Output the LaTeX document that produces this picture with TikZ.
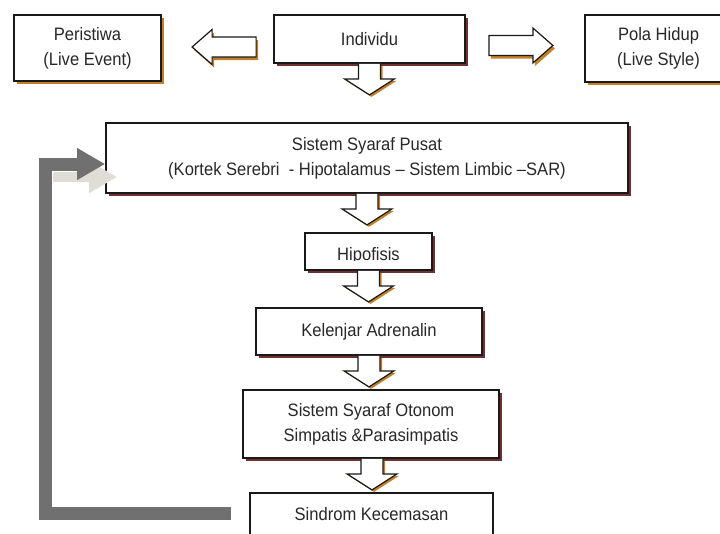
\documentclass[tikz,border=0pt]{standalone}
\usepackage{fontspec}
\setmainfont[FakeStretch=0.92]{Liberation Sans}
\usetikzlibrary{arrows.meta,calc,shadows}
\definecolor{shorange}{RGB}{196,128,40}
\definecolor{shmaroon}{RGB}{110,48,48}
\definecolor{txt}{RGB}{40,40,40}
\definecolor{fbdark}{RGB}{112,112,112}
\definecolor{fblight}{RGB}{222,222,214}
\begin{document}
\begin{tikzpicture}[x=1pt,y=-1pt,
 box/.style={draw=black!90, line width=1.8pt, fill=white, inner sep=0pt, align=center, text=txt, font=\fontsize{18}{25}\selectfont},
 oshadow/.style={drop shadow={shadow xshift=3pt, shadow yshift=-3pt, fill=shorange, opacity=1}},
 mshadow/.style={drop shadow={shadow xshift=3pt, shadow yshift=-3pt, fill=shmaroon, opacity=1}},
 blk/.style={draw=black!90, fill=white, line width=1.2pt, line join=miter},
 downarr/.pic={
   \fill[shorange, shift={(2,2)}] (-11,0) -- (-11,15) -- (-25,15) -- (0,31) -- (25,15) -- (11,15) -- (11,0) -- cycle;
   \draw[blk] (-11,0) -- (-11,15) -- (-25,15) -- (0,31) -- (25,15) -- (11,15) -- (11,0);
 },
 leftarr/.pic={
   \fill[shorange, shift={(2,3)}] (32,-10) -- (-12,-10) -- (-12,-17.5) -- (-32,0) -- (-12,17.5) -- (-12,10) -- (32,10) -- cycle;
   \draw[blk] (32,-10) -- (-12,-10) -- (-12,-17.5) -- (-32,0) -- (-12,17.5) -- (-12,10) -- (32,10) -- cycle;
 },
 rightarr/.pic={
   \fill[shorange, shift={(2,3)}] (-32,-10) -- (12,-10) -- (12,-17.5) -- (32,0) -- (12,17.5) -- (12,10) -- (-32,10) -- cycle;
   \draw[blk] (-32,-10) -- (12,-10) -- (12,-17.5) -- (32,0) -- (12,17.5) -- (12,10) -- (-32,10) -- cycle;
 }]
\useasboundingbox[fill=white] (0,0) rectangle (720,533);

% boxes
\node[box, oshadow, minimum width=147pt, minimum height=66pt] (per) at (87.5,48) {Peristiwa\\(Live Event)};
\node[box, mshadow, minimum width=191pt, minimum height=48pt] (ind) at (369.5,39) {Individu};
\node[box, oshadow, minimum width=147pt, minimum height=67pt] (pol) at (658.5,48.5) {Pola Hidup\\(Live Style)};
\node[box, mshadow, minimum width=522pt, minimum height=70pt] (ssp) at (367,158) {Sistem Syaraf Pusat\\(Kortek Serebri \ - Hipotalamus -- Sistem Limbic --SAR)};
\node[box, mshadow, minimum width=127pt, minimum height=37pt] (hip) at (368.5,251.5) {};
\begin{scope}
  \clip (305,233) rectangle (432,260.5);
  \node[anchor=base, inner sep=0pt, text=txt, font=\fontsize{18}{25}\selectfont] (hiptxt) at (368.5,260) {Hipofisis};
\end{scope}
\node[box, mshadow, minimum width=226pt, minimum height=47pt] (kel) at (369,331.5) {Kelenjar Adrenalin};
\node[box, mshadow, minimum width=256pt, minimum height=68pt] (sso) at (371,424) {Sistem Syaraf Otonom\\Simpatis \&Parasimpatis};
\node[box, minimum width=243pt, minimum height=42pt] (sin) at (371.5,514) {Sindrom Kecemasan};

% block arrows
\pic at ($(ind.west)+(-49,8)$) {leftarr};
\pic at ($(ind.east)+(55,6.5)$) {rightarr};
\pic at (ind.south) {downarr};
\pic at (ssp.south) {downarr};
\pic at (hip.south) {downarr};
\pic at (kel.south) {downarr};
\pic at ($(sso.south)+(1,0)$) {downarr};

% feedback arrow
\coordinate (fbend) at ($(sin.west)+(-18,-1)$);
\coordinate (ls) at (53,177);
\coordinate (lt) at ($(ssp.west)+(12,19)$);
\draw[fblight, line width=10pt, -{Triangle[width=30pt,length=28pt]}] (ls) -- (lt);
\draw[fbdark, line width=13pt, line join=miter, -{Triangle[width=30pt,length=28pt]}] (fbend) -- (45,513) |- ($(ssp.west)+(0,6)$);
\end{tikzpicture}
\end{document}
